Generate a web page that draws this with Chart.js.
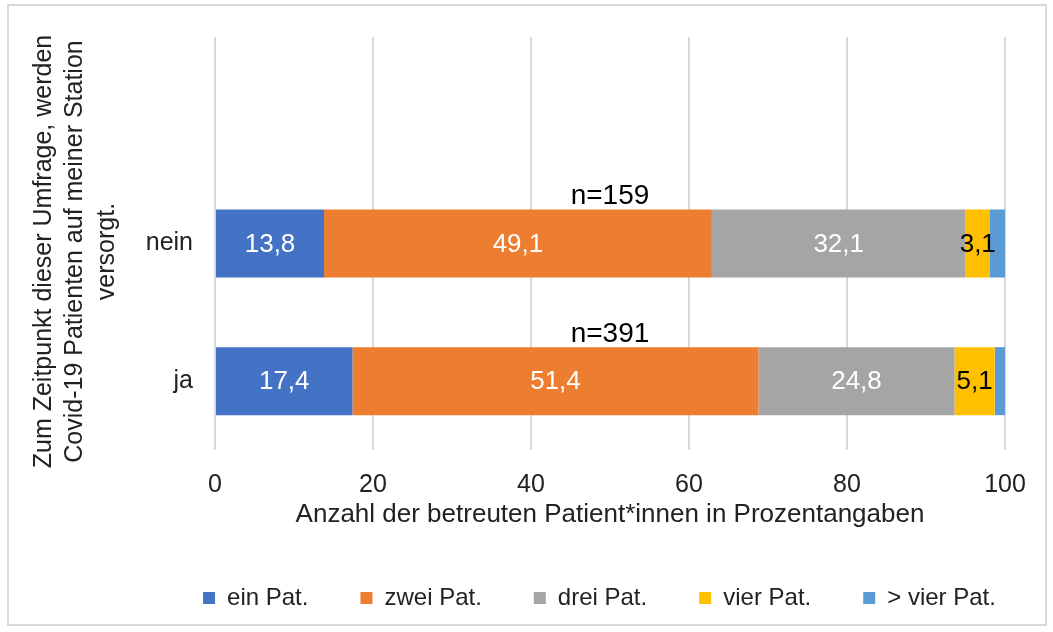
<!DOCTYPE html>
<html><head><meta charset="utf-8">
<script src="https://cdn.jsdelivr.net/npm/chart.js@4/dist/chart.umd.min.js"></script>
<style>
html,body{margin:0;padding:0;background:#fff;}
#wrap{position:relative;width:1053px;height:632px;overflow:hidden;}
#frame{position:absolute;left:7px;top:4px;width:1040px;height:622px;border:2px solid #d9d9d9;box-sizing:border-box;pointer-events:none;}
canvas{position:absolute;left:0;top:0;}
</style></head><body>
<div id="wrap"><canvas id="c" width="1053" height="632"></canvas><div id="frame"></div></div>
<script>
const categories = ['', 'nein', 'ja'];
const seriesNames = ['ein Pat.', 'zwei Pat.', 'drei Pat.', 'vier Pat.', '> vier Pat.'];
const einPat  = [null, 13.8, 17.4];
const zweiPat = [null, 49.1, 51.4];
const dreiPat = [null, 32.1, 24.8];
const vierPat = [null, 3.1, 5.1];
const mehrPat = [null, 1.9, 1.3];
const sampleSizes = [null, 159, 391];
const xTicks = [0, 20, 40, 60, 80, 100];
const xTitle = 'Anzahl der betreuten Patient*innen in Prozentangaben';
const yTitle = ['Zum Zeitpunkt dieser Umfrage, werden', 'Covid-19 Patienten auf meiner Station', 'versorgt.'];

const colors = ['#4472C4', '#ED7D31', '#A5A5A5', '#FFC000', '#5B9BD5'];
const labelColors = ['#ffffff', '#ffffff', '#ffffff', '#000000', null];
const FONT = "'Liberation Sans', Arial, sans-serif";
const TXT = '#222222';

const seriesValues = [einPat, zweiPat, dreiPat, vierPat, mehrPat];

const layoutTweaks = {
  id: 'layoutTweaks',
  afterLayout(chart) {
    const lg = chart.legend;
    if (lg) {
      const dx = 97, dy = -12;
      lg.left += dx; lg.right += dx;
      lg.top += dy; lg.bottom += dy;
    }
    const ys = chart.scales.y;
    if (ys && !ys._titleWrapped) {
      const orig = ys.drawTitle.bind(ys);
      ys.drawTitle = function () {
        const t = this.top, b = this.bottom, sh = 8;
        this.top = t + sh; this.bottom = b + sh;
        orig();
        this.top = t; this.bottom = b;
      };
      ys._titleWrapped = true;
    }
  }
};

const valueLabels = {
  id: 'valueLabels',
  afterDatasetsDraw(chart) {
    const ctx = chart.ctx;
    ctx.save();
    ctx.textAlign = 'center';
    ctx.textBaseline = 'middle';
    chart.data.datasets.forEach((ds, di) => {
      const col = labelColors[di];
      if (!col) return;
      const meta = chart.getDatasetMeta(di);
      ctx.fillStyle = col;
      ctx.font = "26px " + FONT;
      meta.data.forEach((el, i) => {
        const v = ds.data[i];
        if (v === null || v === undefined) return;
        const p = el.getCenterPoint();
        ctx.fillText(v.toFixed(1).replace('.', ','), p.x, p.y + 1);
      });
    });
    const meta0 = chart.getDatasetMeta(0);
    const xs = chart.scales.x;
    ctx.fillStyle = '#000';
    ctx.font = "28px " + FONT;
    sampleSizes.forEach((n, i) => {
      if (n === null) return;
      const el = meta0.data[i];
      const cx = xs.getPixelForValue(50);
      ctx.fillText('n=' + n, cx, el.y - el.height / 2 - 13);
    });
    ctx.restore();
  }
};

new Chart(document.getElementById('c'), {
  type: 'bar',
  data: {
    labels: categories,
    datasets: seriesNames.map((name, i) => ({
      label: name,
      data: seriesValues[i],
      backgroundColor: colors[i],
      borderWidth: 0,
      categoryPercentage: 1,
      barPercentage: 0.494
    }))
  },
  options: {
    indexAxis: 'y',
    responsive: false,
    animation: false,
    devicePixelRatio: 1,
    layout: { padding: { top: 37, right: 48, left: 0, bottom: 0 } },
    scales: {
      x: {
        stacked: true,
        min: 0, max: 100,
        afterBuildTicks(s) { s.ticks = xTicks.map(v => ({ value: v })); },
        afterFit(s) { s.height = 96; },
        grid: { color: '#d9d9d9', lineWidth: 2, drawTicks: false },
        border: { display: false },
        ticks: { font: { family: FONT, size: 25 }, color: TXT, padding: 20, maxRotation: 0 },
        title: { display: true, text: xTitle, font: { family: FONT, size: 26 }, color: TXT, padding: { top: 0, bottom: 16 } }
      },
      y: {
        stacked: true,
        afterFit(s) { s.width = 215; },
        grid: { display: false, drawTicks: false },
        border: { display: false },
        ticks: { font: { family: FONT, size: 25 }, color: TXT, padding: 22 },
        title: { display: true, text: yTitle, font: { family: FONT, size: 25, lineHeight: 1.26 }, color: TXT, padding: { top: 28, bottom: 0 } }
      }
    },
    plugins: {
      legend: {
        position: 'bottom',
        labels: { font: { family: FONT, size: 24 }, color: TXT, boxWidth: 12, boxHeight: 12, padding: 52 }
      },
      tooltip: { enabled: false }
    }
  },
  plugins: [layoutTweaks, valueLabels]
});
</script>
</body></html>
